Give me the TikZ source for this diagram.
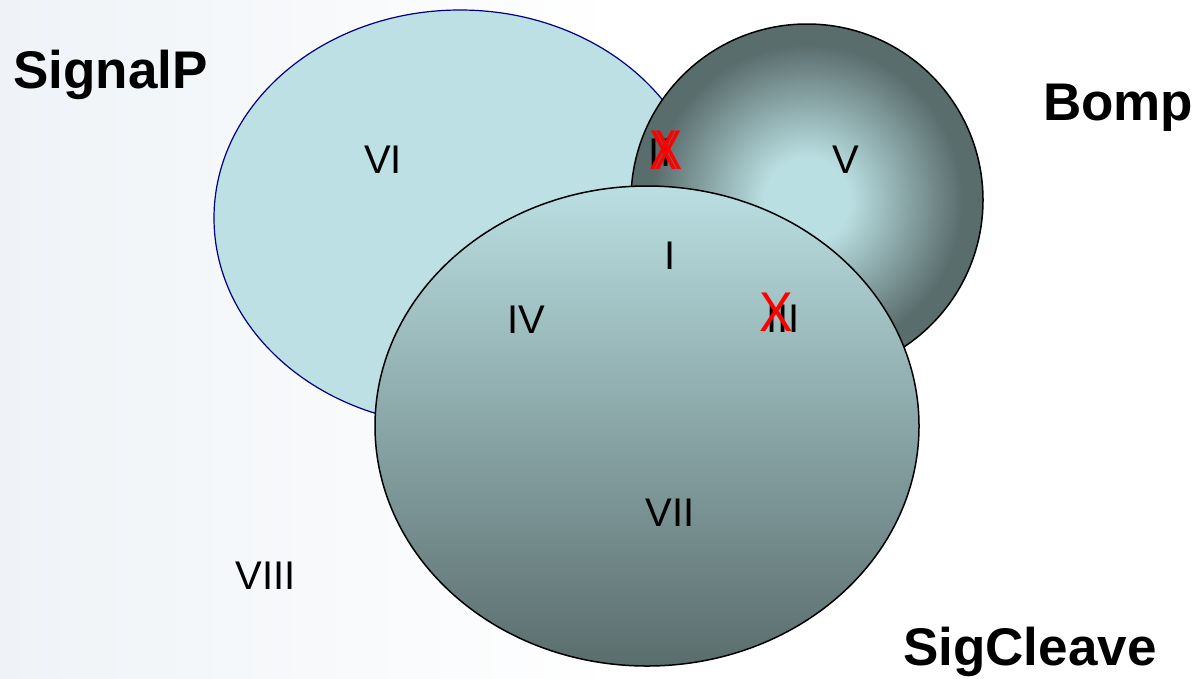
\documentclass[tikz,border=0pt]{standalone}
\usepackage{fontspec}
\setmainfont{Liberation Sans}
\definecolor{sigfill}{HTML}{BCE0E3}
\definecolor{navyline}{HTML}{000080}
\definecolor{lightc}{HTML}{BADFE2}
\definecolor{darkc}{HTML}{5A6D6D}
\definecolor{bgc}{HTML}{EFF3F7}
\definecolor{xred}{HTML}{FF0000}
\pgfdeclareradialshading{bompshade}{\pgfpoint{0bp}{0bp}}{color(0bp)=(lightc); color(6bp)=(lightc); color(22bp)=(darkc); color(25bp)=(darkc); color(50bp)=(darkc)}
\begin{document}
\begin{tikzpicture}[x=1pt,y=-1pt,
  setlabel/.style={font=\fontsize{53}{60}\selectfont\bfseries, inner sep=0pt, anchor=base west},
  region/.style={font=\fontsize{40}{46}\selectfont, inner sep=0pt},
  cross/.style={font=\fontsize{56}{60}\selectfont, text=xred, inner sep=0pt},
  outline/.style={draw=black, line width=1.5pt}]
\useasboundingbox (0,0) rectangle (1198,678);
\fill[white] (0,0) rectangle (1198,678);
\shade[left color=bgc, right color=white] (0,0) rectangle (620,678);
% SignalP set
\filldraw[fill=sigfill, draw=navyline, line width=1.2pt] (460,218) ellipse [x radius=246, y radius=208];
% Bomp set
\shade[shading=bompshade, outline] (807,200) circle [radius=176];
% SigCleave set
\shade[top color=lightc, bottom color=darkc, outline] (647,426) ellipse [x radius=272, y radius=240];
% set labels
\node[setlabel] (lsignalp) at (13,88) {SignalP};
\node[setlabel] (lbomp) at (1043,120) {Bomp};
\node[setlabel] (lsigcleave) at (903,665) {SigCleave};
% region labels
\node[region] (r6) at (383,160) {VI};
\node[region] (r5) at (846,160) {V};
\node[region] (r2) at (660,153) {II};
\node[region] (r1) at (670,256) {I};
\node[region] (r4) at (526,320) {IV};
\node[region] (r3) at (783,319) {III};
\node[region] (r7) at (670,513) {VII};
\node[region] (r8) at (266,576) {VIII};
% red crosses
\node[cross] (x2a) at (663,150) {\scalebox{0.75}[1]{X}};
\node[cross] (x2b) at (668,150) {\scalebox{0.75}[1]{X}};
\node[cross] (x3) at (776,312) {\scalebox{0.9}[1]{X}};
\end{tikzpicture}
\end{document}
